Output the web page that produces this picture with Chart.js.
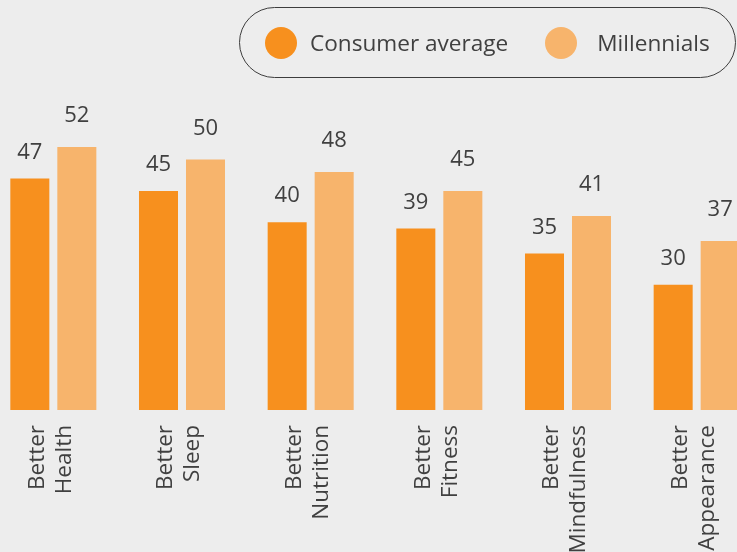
<!DOCTYPE html>
<html>
<head>
<meta charset="utf-8">
<script src="https://cdn.jsdelivr.net/npm/chart.js@4/dist/chart.umd.min.js"></script>
<style>
  html, body { margin: 0; padding: 0; width: 737px; height: 552px; overflow: hidden; background: #ededed; }
  body { position: relative; font-family: "Open Sans", sans-serif; }
  #wrap { position: absolute; left: -11px; top: 0; width: 772px; height: 552px; }
  #legend {
    position: absolute; left: 239px; top: 7px; width: 495px; height: 69px;
    border: 1.5px solid #3d3d3d; border-radius: 37px;
    display: flex; align-items: center; box-sizing: content-box;
  }
  #legend .item { display: flex; align-items: center; color: #404040; font-size: 22.6px; white-space: nowrap; }
  #legend .dot { width: 32px; height: 32px; border-radius: 50%; margin-right: 13px; }
</style>
</head>
<body>
<div id="wrap"><canvas id="c" width="772" height="552"></canvas></div>
<div id="legend"></div>
<script>
// Benefit categories, split over two lines for the rotated axis labels
const categories = [
  ["Better", "Health"],
  ["Better", "Sleep"],
  ["Better", "Nutrition"],
  ["Better", "Fitness"],
  ["Better", "Mindfulness"],
  ["Better", "Appearance"]
];
const seriesNames = ["Consumer average", "Millennials"];
const consumerAverage = [47, 45, 40, 39, 35, 30];
const millennials = [52, 50, 48, 45, 41, 37];

const colors = ["#f7901e", "#f7b46c"];
const textColor = "#404040";
const font = '"Open Sans", sans-serif';

// Value labels above each bar
const valueLabels = {
  id: "valueLabels",
  afterDatasetsDraw(chart) {
    const ctx = chart.ctx;
    ctx.save();
    ctx.fillStyle = textColor;
    ctx.font = "22px " + font;
    ctx.textAlign = "center";
    ctx.textBaseline = "middle";
    chart.data.datasets.forEach((ds, i) => {
      const meta = chart.getDatasetMeta(i);
      const lift = i === 0 ? 26 : 31;
      meta.data.forEach((bar, j) => {
        ctx.fillText(String(ds.data[j]), bar.x, bar.y - lift);
      });
    });
    ctx.restore();
  }
};

// Pill-shaped legend built from the datasets
const htmlLegend = {
  id: "htmlLegend",
  afterUpdate(chart) {
    const box = document.getElementById("legend");
    box.innerHTML = "";
    chart.data.datasets.forEach((ds, i) => {
      const item = document.createElement("div");
      item.className = "item";
      item.style.marginLeft = i === 0 ? "25px" : "37px";
      const dot = document.createElement("span");
      dot.className = "dot";
      dot.style.background = ds.backgroundColor;
      const label = document.createElement("span");
      label.textContent = ds.label;
      if (i === 1) dot.style.marginRight = "20px";
      item.appendChild(dot);
      item.appendChild(label);
      box.appendChild(item);
    });
  }
};

new Chart(document.getElementById("c"), {
  type: "bar",
  data: {
    labels: categories,
    datasets: [
      { label: seriesNames[0], data: consumerAverage, backgroundColor: colors[0] },
      { label: seriesNames[1], data: millennials, backgroundColor: colors[1] }
    ]
  },
  options: {
    responsive: false,
    animation: false,
    devicePixelRatio: 1,
    layout: { padding: { top: 97, left: 0, right: 0, bottom: 0 } },
    datasets: { bar: { categoryPercentage: 0.7306, barPercentage: 0.83 } },
    plugins: { legend: { display: false }, tooltip: { enabled: false } },
    scales: {
      x: {
        grid: { display: false, drawTicks: false },
        border: { display: false },
        ticks: {
          color: textColor,
          font: { family: font, size: 22.5 },
          minRotation: 90,
          maxRotation: 90,
          padding: 15,
          labelOffset: -16,
          autoSkip: false
        },
        afterFit(scale) {
          scale.height = 142;
          scale.paddingLeft = 0;
          scale.paddingRight = 0;
        }
      },
      y: { display: false, min: 10, max: 60 }
    }
  },
  plugins: [valueLabels, htmlLegend]
});
</script>
</body>
</html>
